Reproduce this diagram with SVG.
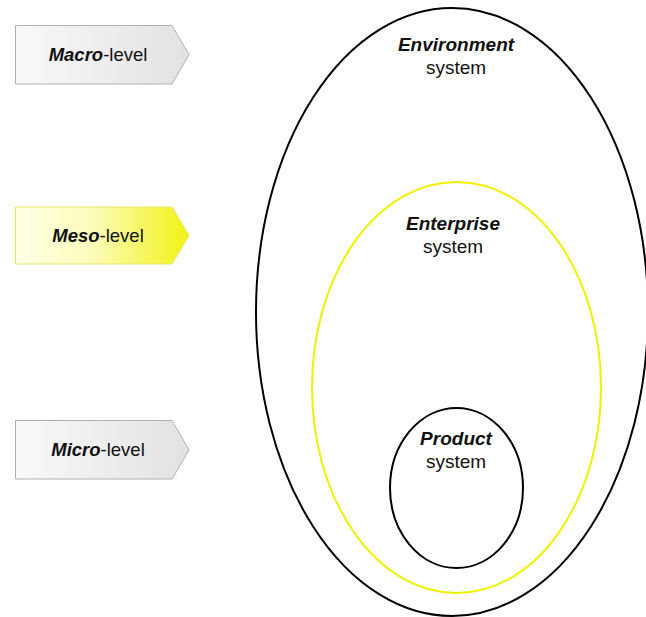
<svg xmlns="http://www.w3.org/2000/svg" width="646" height="617" viewBox="0 0 646 617">
  <style>
    text { font-family: "Liberation Sans", Arial, sans-serif; font-size: 19px; fill: #111; text-anchor: middle; }
    .tag text { font-size: 18.5px; }
    .b { font-weight: bold; font-style: italic; }
    .tag-grey { fill: url(#greyFill); stroke: #b0b0b0; stroke-width: 1; }
    .tag-yellow { fill: url(#yellowFill); stroke: #e6e66a; stroke-width: 1; }
    .ring { fill: none; stroke-width: 2; }
  </style>
  <defs>
    <linearGradient id="greyFill" x1="0" y1="0" x2="1" y2="0">
      <stop offset="0" stop-color="#f9f9f9"/>
      <stop offset="1" stop-color="#e2e2e2"/>
    </linearGradient>
    <linearGradient id="yellowFill" x1="0" y1="0" x2="1" y2="0">
      <stop offset="0" stop-color="#ffffe8"/>
      <stop offset="0.45" stop-color="#fcfcb8"/>
      <stop offset="1" stop-color="#f2f212"/>
    </linearGradient>
  </defs>

  <!-- level tags -->
  <g id="macro-level" class="tag">
    <path class="tag-grey" d="M15.5 25.5 H172 L189 54.5 L172 84 H15.5 Z"/>
    <text x="98" y="61"><tspan class="b">Macro</tspan>-level</text>
  </g>
  <g id="meso-level" class="tag">
    <path class="tag-yellow" d="M15.5 207 H172 L189 235.5 L172 264 H15.5 Z"/>
    <text x="98" y="242"><tspan class="b">Meso</tspan>-level</text>
  </g>
  <g id="micro-level" class="tag">
    <path class="tag-grey" d="M15.5 420.5 H172 L189 450 L172 479 H15.5 Z"/>
    <text x="98" y="456"><tspan class="b">Micro</tspan>-level</text>
  </g>

  <!-- nested systems -->
  <g id="environment-system">
    <ellipse class="ring" stroke="#000" cx="452" cy="312" rx="196" ry="304"/>
    <text x="456" y="51" class="b">Environment</text>
    <text x="456" y="74">system</text>
  </g>
  <g id="enterprise-system">
    <ellipse class="ring" stroke="#f0f000" cx="456.5" cy="387.5" rx="144.5" ry="205.5"/>
    <text x="453" y="230" class="b">Enterprise</text>
    <text x="453" y="253">system</text>
  </g>
  <g id="product-system">
    <ellipse class="ring" stroke="#000" cx="456.5" cy="488" rx="66.5" ry="80"/>
    <text x="456" y="445" class="b">Product</text>
    <text x="456" y="468">system</text>
  </g>
  <g id="connectors"/>
</svg>
